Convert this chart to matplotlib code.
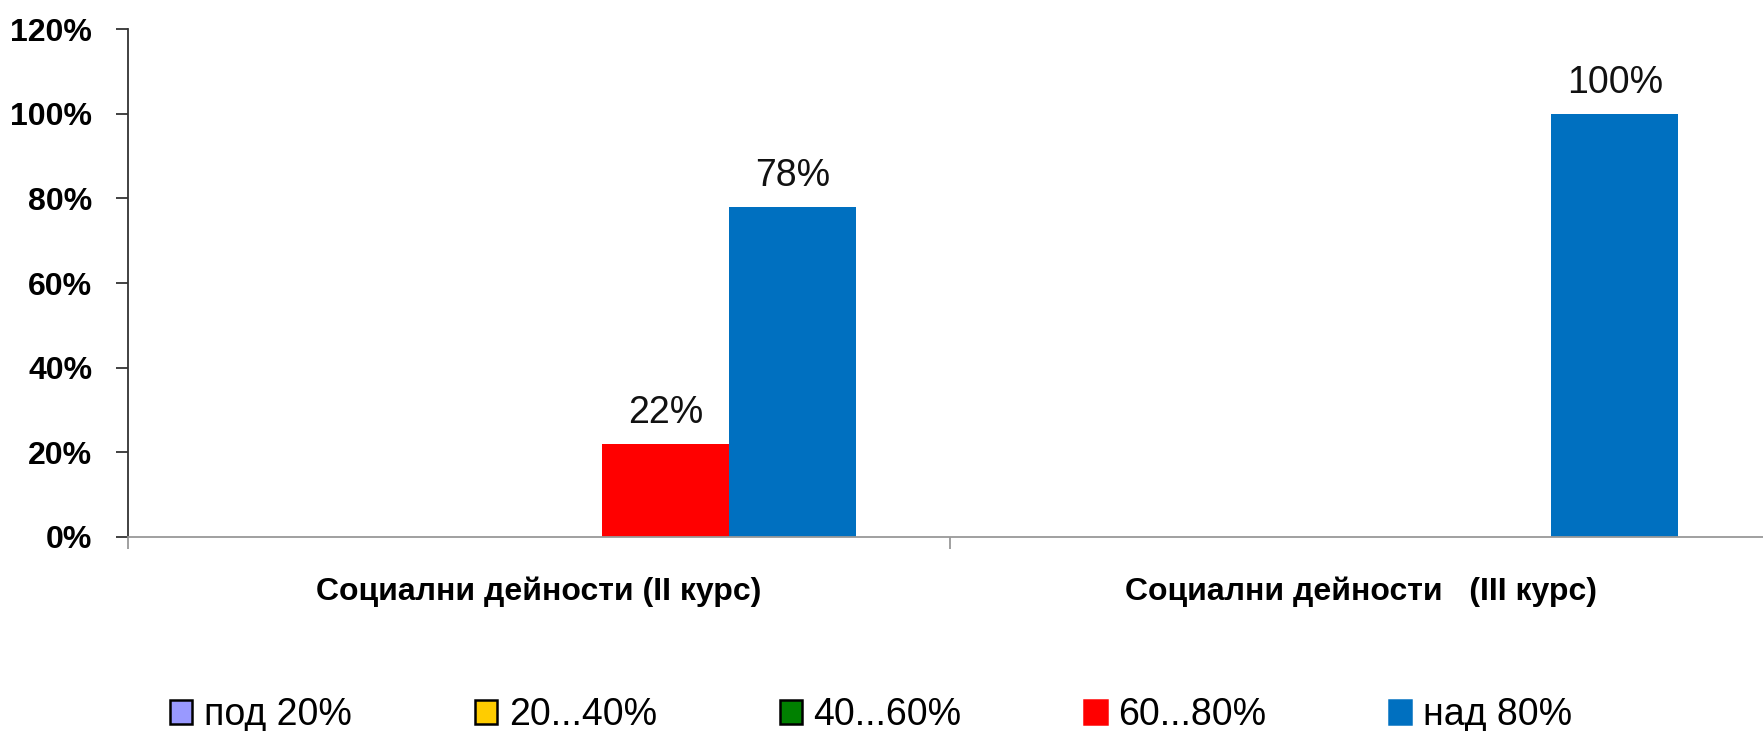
import matplotlib
matplotlib.use("Agg")
import matplotlib.pyplot as plt
from matplotlib.patches import Patch
from matplotlib.ticker import FixedLocator, PercentFormatter
import numpy as np

plt.rcParams['font.family'] = ['Liberation Sans', 'DejaVu Sans']

categories = ["Социални дейности (II курс)", "Социални дейности   (III курс)"]
series_names = ["под 20%", "20...40%", "40...60%", "60...80%", "над 80%"]
series_colors = ["#9999FF", "#FFCC00", "#008000", "#FF0000", "#0070C0"]
series_edges = ["black", "black", "black", "#FF0000", "#0070C0"]
values = {
    "под 20%": [0, 0],
    "20...40%": [0, 0],
    "40...60%": [0, 0],
    "60...80%": [22, 0],
    "над 80%": [78, 100],
}

W, H = 1763, 731
fig = plt.figure(figsize=(W / 100, H / 100), dpi=100)
# plot area in pixels: left 127.7, 0% at y=536.7, 120% at y=29.3, right end clipped by figure
ax = fig.add_axes([127.7 / W, 1 - 536.7 / H, (1772.3 - 127.7) / W, (536.7 - 29.3) / H])

x = np.arange(len(categories))
group_w = 0.771
w = group_w / len(series_names)
for i, name in enumerate(series_names):
    xs = x - group_w / 2 + w * (i + 0.5)
    vals = values[name]
    ax.bar(xs, vals, width=w, color=series_colors[i], linewidth=0)
    for xi, v in zip(xs, vals):
        if v > 0:
            ax.annotate(f"{v}%", xy=(xi, v), xytext=(0, 9), textcoords='offset points',
                        ha='center', va='bottom', fontsize=27, color='#111111')

ax.set_xlim(-0.5, len(categories) - 0.5)
ax.set_ylim(0, 120)
ax.set_yticks(np.arange(0, 121, 20))
ax.yaxis.set_major_formatter(PercentFormatter(decimals=0))
ax.tick_params(axis='y', length=8.6, width=1.3, color='#333333', labelsize=23, pad=17)
for lab in ax.get_yticklabels():
    lab.set_fontweight('bold')

ax.set_xticks(x)
ax.set_xticklabels(categories, fontsize=23, fontweight='bold')
ax.xaxis.set_minor_locator(FixedLocator([-0.5, 0.5, 1.5]))
ax.tick_params(axis='x', which='major', length=0, pad=28.5)
ax.tick_params(axis='x', which='minor', length=8.6, width=1.3, color='#999999')

for s in ['top', 'right']:
    ax.spines[s].set_visible(False)
ax.spines['left'].set_color('#333333')
ax.spines['left'].set_linewidth(1.3)
ax.spines['bottom'].set_color('#999999')
ax.spines['bottom'].set_linewidth(1.3)

handles = [Patch(facecolor=c, edgecolor=e, linewidth=1.8) for c, e in zip(series_colors, series_edges)]
fig.legend(handles, series_names, loc='center left', bbox_to_anchor=(170 / W, 1 - 715 / H),
           ncol=5, frameon=False, fontsize=27, handlelength=0.59, handleheight=0.61,
           handletextpad=0.32, columnspacing=3.27, borderaxespad=0, borderpad=0)

fig.savefig("out.png", dpi=100)
